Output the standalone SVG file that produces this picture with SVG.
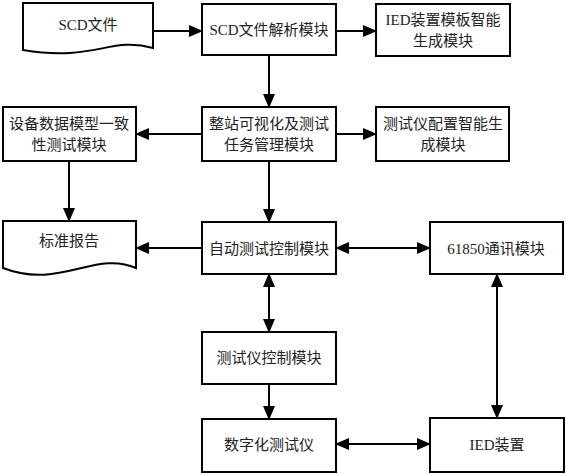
<svg xmlns="http://www.w3.org/2000/svg" width="566" height="474" viewBox="0 0 566 474">
<style>
.box{fill:#fff;stroke:#000;stroke-width:2}
.t{font-family:"Liberation Serif","Noto Sans CJK SC",serif;font-size:15px;fill:#222;text-anchor:middle}
.c{fill:none;stroke:#000;stroke-width:2}
</style>
<defs>
<marker id="ah" markerUnits="userSpaceOnUse" markerWidth="14" markerHeight="12" refX="13" refY="6" orient="auto-start-reverse" viewBox="0 0 14 12">
<path d="M0,0 L14,6 L0,12 Z" fill="#000"/>
</marker>
</defs>
<g id="n-scd"><path class="box" d="M23,3 H153 V48 C110,36 95,62 23,50 Z"/><text class="t" x="88" y="30">SCD文件</text></g>
<g id="n-parse"><rect class="box" x="202" y="4" width="134" height="51"/><text class="t" x="269" y="35">SCD文件解析模块</text></g>
<g id="n-ied-tpl"><rect class="box" x="376" y="4" width="134" height="52"/><text class="t" x="443" y="25">IED装置模板智能</text><text class="t" x="443" y="46">生成模块</text></g>
<g id="n-consist"><rect class="box" x="3" y="107" width="133" height="54"/><text class="t" x="69" y="129">设备数据模型一致</text><text class="t" x="69" y="150">性测试模块</text></g>
<g id="n-station"><rect class="box" x="202" y="107" width="134" height="54"/><text class="t" x="269" y="129">整站可视化及测试</text><text class="t" x="269" y="150">任务管理模块</text></g>
<g id="n-cfg"><rect class="box" x="376" y="107" width="133" height="54"/><text class="t" x="443" y="129">测试仪配置智能生</text><text class="t" x="443" y="150">成模块</text></g>
<g id="n-report"><path class="box" d="M3,221 H136 V268 C95,250 60,290 3,268 Z"/><text class="t" x="69" y="246">标准报告</text></g>
<g id="n-auto"><rect class="box" x="202" y="222" width="134" height="52"/><text class="t" x="269" y="254">自动测试控制模块</text></g>
<g id="n-61850"><rect class="box" x="430" y="222" width="133" height="52"/><text class="t" x="496" y="254">61850通讯模块</text></g>
<g id="n-tctrl"><rect class="box" x="202" y="332" width="134" height="52"/><text class="t" x="269" y="363">测试仪控制模块</text></g>
<g id="n-digital"><rect class="box" x="202" y="419" width="134" height="53"/><text class="t" x="269" y="450">数字化测试仪</text></g>
<g id="n-ied"><rect class="box" x="430" y="418" width="134" height="54"/><text class="t" x="497" y="450">IED装置</text></g>
<g id="connectors">
<path class="c" d="M153,31 H202" marker-end="url(#ah)"/>
<path class="c" d="M336,31 H376" marker-end="url(#ah)"/>
<path class="c" d="M269,55 V107" marker-end="url(#ah)"/>
<path class="c" d="M202,134 H136" marker-end="url(#ah)"/>
<path class="c" d="M336,134 H376" marker-end="url(#ah)"/>
<path class="c" d="M69,161 V221" marker-end="url(#ah)"/>
<path class="c" d="M269,161 V222" marker-end="url(#ah)"/>
<path class="c" d="M202,248 H136" marker-end="url(#ah)"/>
<path class="c" d="M336,248 H430" marker-start="url(#ah)" marker-end="url(#ah)"/>
<path class="c" d="M269,274 V332" marker-start="url(#ah)" marker-end="url(#ah)"/>
<path class="c" d="M269,384 V419" marker-end="url(#ah)"/>
<path class="c" d="M336,444 H430" marker-start="url(#ah)" marker-end="url(#ah)"/>
<path class="c" d="M497,274 V418" marker-start="url(#ah)" marker-end="url(#ah)"/>
</g>
</svg>
